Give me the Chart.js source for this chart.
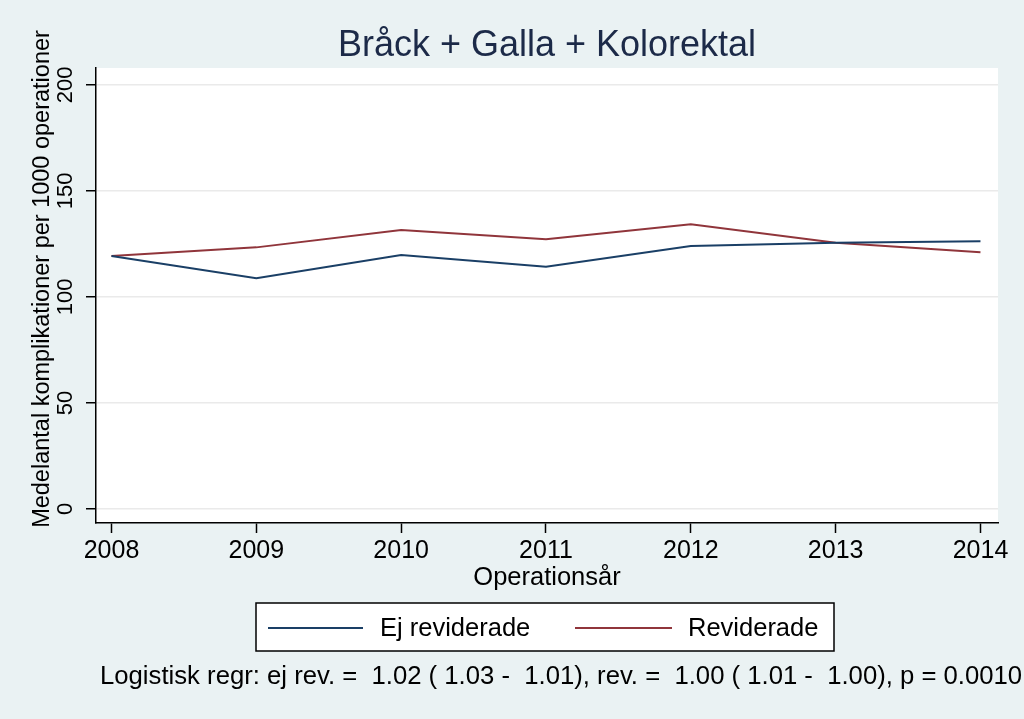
<!DOCTYPE html>
<html>
<head>
<meta charset="utf-8">
<script src="https://cdn.jsdelivr.net/npm/chart.js@4.4.0/dist/chart.umd.min.js"></script>
<style>
html,body{margin:0;padding:0;background:#EAF2F3;}
#wrap{width:1024px;height:719px;position:relative;}
</style>
</head>
<body>
<div id="wrap"><canvas id="c" width="1024" height="719"></canvas></div>
<script>
const years = [2008, 2009, 2010, 2011, 2012, 2013, 2014];
const ejReviderade = [119.3, 108.8, 119.8, 114.3, 124.1, 125.6, 126.3];
const reviderade   = [119.3, 123.4, 131.6, 127.2, 134.3, 125.6, 121.1];
const yTicks = [0, 50, 100, 150, 200];
const titleText = 'Bråck + Galla + Kolorektal';
const xTitle = 'Operationsår';
const yTitle = 'Medelantal komplikationer per 1000 operationer';
const noteText = 'Logistisk regr: ej rev. =  1.02 ( 1.03 -  1.01), rev. =  1.00 ( 1.01 -  1.00), p = 0.0010';

const FONT = '"Liberation Sans", Arial, Helvetica, sans-serif';

const decor = {
  id: 'decor',
  beforeDraw(chart) {
    const {ctx, chartArea: a} = chart;
    ctx.save();
    ctx.fillStyle = '#EAF2F3';
    ctx.fillRect(0, 0, chart.width, chart.height);
    ctx.fillStyle = '#FFFFFF';
    ctx.fillRect(a.left, a.top, a.right - a.left, a.bottom - a.top);
    ctx.restore();
  },
  afterDraw(chart) {
    const {ctx, chartArea: a} = chart;
    const xs = chart.scales.x, ys = chart.scales.y;
    ctx.save();
    // title
    ctx.fillStyle = '#1C2A48';
    ctx.font = '36px ' + FONT;
    ctx.textAlign = 'center';
    ctx.textBaseline = 'middle';
    ctx.fillText(titleText, (a.left + a.right) / 2, 46);
    // x tick labels
    ctx.fillStyle = '#000';
    ctx.font = '25px ' + FONT;
    years.forEach(v => ctx.fillText(String(v), xs.getPixelForValue(v), 551));
    // x title
    ctx.font = '25.5px ' + FONT;
    ctx.fillText(xTitle, (a.left + a.right) / 2, 578);
    // y tick labels (rotated)
    ctx.font = '22px ' + FONT;
    yTicks.forEach(v => {
      ctx.save();
      ctx.translate(66, ys.getPixelForValue(v));
      ctx.rotate(-Math.PI / 2);
      ctx.fillText(String(v), 0, 0);
      ctx.restore();
    });
    // y title
    ctx.font = '23.5px ' + FONT;
    ctx.save();
    ctx.translate(43, 279);
    ctx.rotate(-Math.PI / 2);
    ctx.fillText(yTitle, 0, 0);
    ctx.restore();
    // legend box
    const bx = 256, by = 603, bw = 578, bh = 48;
    ctx.fillStyle = '#FFFFFF';
    ctx.fillRect(bx, by, bw, bh);
    ctx.strokeStyle = '#000';
    ctx.lineWidth = 1.5;
    ctx.strokeRect(bx, by, bw, bh);
    const items = [
      {x1: 268, x2: 363, tx: 380},
      {x1: 575, x2: 672, tx: 688}
    ];
    ctx.font = '25.5px ' + FONT;
    chart.data.datasets.forEach((ds, i) => {
      const it = items[i];
      ctx.strokeStyle = ds.borderColor;
      ctx.lineWidth = 2;
      ctx.beginPath();
      ctx.moveTo(it.x1, 628);
      ctx.lineTo(it.x2, 628);
      ctx.stroke();
      ctx.fillStyle = '#000';
      ctx.textAlign = 'left';
      ctx.fillText(ds.label, it.tx, 629);
    });
    // note
    ctx.font = '25.7px ' + FONT;
    ctx.textAlign = 'left';
    ctx.fillText(noteText, 100, 677);
    ctx.restore();
  }
};

new Chart(document.getElementById('c'), {
  type: 'line',
  data: {
    datasets: [
      {label: 'Ej reviderade', data: years.map((y, i) => ({x: y, y: ejReviderade[i]})),
       borderColor: '#1A3F66', borderWidth: 2, pointRadius: 0, tension: 0, fill: false},
      {label: 'Reviderade', data: years.map((y, i) => ({x: y, y: reviderade[i]})),
       borderColor: '#90353B', borderWidth: 2, pointRadius: 0, tension: 0, fill: false}
    ]
  },
  options: {
    responsive: false,
    animation: false,
    layout: {padding: {left: 0, top: 68, right: 26, bottom: 186}},
    plugins: {legend: {display: false}, title: {display: false}, tooltip: {enabled: false}},
    scales: {
      x: {
        type: 'linear', min: 2007.893, max: 2014.121,
        afterBuildTicks: s => { s.ticks = years.map(v => ({value: v})); },
        afterFit: s => { s.height = 10; },
        ticks: {display: false},
        grid: {drawOnChartArea: false, drawTicks: true, tickLength: 10, tickColor: '#000', tickWidth: 1.5},
        border: {display: true, color: '#000', width: 1.5}
      },
      y: {
        type: 'linear', min: -6.6, max: 208,
        afterBuildTicks: s => { s.ticks = yTicks.map(v => ({value: v})); },
        afterFit: s => { s.width = 96; },
        ticks: {display: false},
        grid: {drawOnChartArea: true, color: '#EAEAEA', lineWidth: 1.5, drawTicks: true, tickLength: 10, tickColor: '#000', tickWidth: 1.5},
        border: {display: true, color: '#000', width: 1.5}
      }
    }
  },
  plugins: [decor]
});
</script>
</body>
</html>
